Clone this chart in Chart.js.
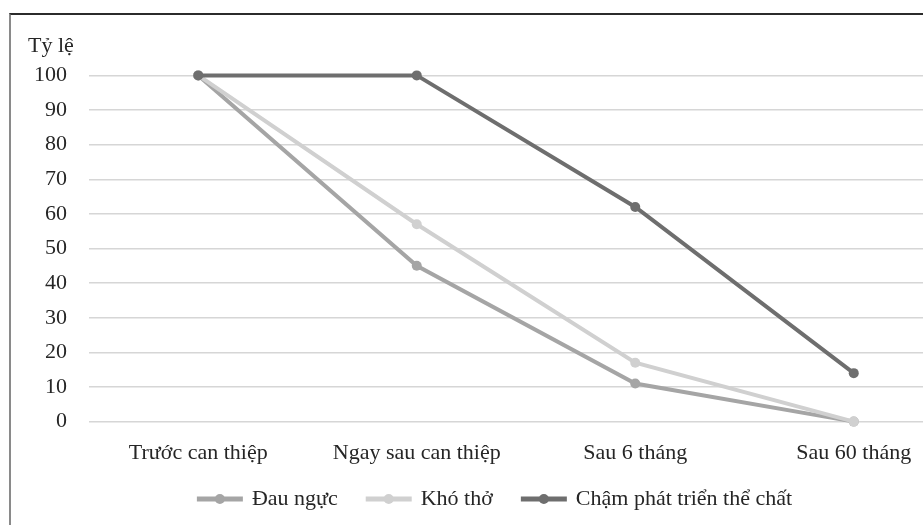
<!DOCTYPE html>
<html>
<head>
<meta charset="utf-8">
<script src="https://cdn.jsdelivr.net/npm/chart.js@4.4.1/dist/chart.umd.min.js"></script>
<style>
  html, body { margin: 0; padding: 0; background: #fff; overflow: hidden; }
  #frame {
    position: absolute; left: 9px; top: 13px; width: 1000px; height: 600px;
    border-top: 2px solid #2b2b2b; border-left: 2px solid #8a8a8a;
  }
  #chart { position: absolute; left: 0; top: 0; }
</style>
</head>
<body>
<div id="frame"><canvas id="chart" width="960" height="523"></canvas></div>
<script>
var categories = ["Trước can thiệp", "Ngay sau can thiệp", "Sau 6 tháng", "Sau 60 tháng"];
var seriesNames = ["Đau ngực", "Khó thở", "Chậm phát triển thể chất"];
var dauNguc = [100, 45, 11, 0];
var khoTho = [100, 57, 17, 0];
var chamPhatTrien = [100, 100, 62, 14];
var seriesColors = ["#a5a5a5", "#d0d0d0", "#6e6e6e"];
var yTitle = "Tỷ lệ";

var FONT = "'Liberation Serif', 'Times New Roman', serif";
var TEXT = "#262626";

function makeSet(i, data, order) {
  return {
    label: seriesNames[i],
    data: data,
    borderColor: seriesColors[i],
    backgroundColor: seriesColors[i],
    pointBackgroundColor: seriesColors[i],
    pointBorderColor: seriesColors[i],
    borderWidth: 4,
    pointRadius: 5,
    pointBorderWidth: 0,
    tension: 0,
    clip: false,
    order: order
  };
}

// legend: move it to the right height and put a dot on each line marker
var legendFix = {
  id: "legendFix",
  afterUpdate: function(chart) {
    var lg = chart.legend;
    var hb = lg.legendHitBoxes;
    if (!hb.length) return;
    var shift = 484 - (hb[0].top + hb[0].height / 2);
    lg.top += shift; lg.bottom += shift;
    hb.forEach(function(b) { b.top += shift; });
  },
  afterDraw: function(chart) {
    var ctx = chart.ctx;
    var lg = chart.legend;
    var bw = lg.options.labels.boxWidth;
    lg.legendHitBoxes.forEach(function(b, i) {
      var item = lg.legendItems[i];
      ctx.save();
      ctx.fillStyle = item.strokeStyle;
      ctx.beginPath();
      ctx.arc(b.left + bw / 2, b.top + b.height / 2, 5, 0, Math.PI * 2);
      ctx.fill();
      ctx.restore();
    });
  }
};

var chart = new Chart(document.getElementById("chart").getContext("2d"), {
  type: "line",
  data: {
    labels: categories,
    datasets: [
      makeSet(0, dauNguc, 2),
      makeSet(1, khoTho, 1),
      makeSet(2, chamPhatTrien, 0)
    ]
  },
  options: {
    responsive: false,
    animation: false,
    layout: { padding: { left: 17, right: 8, top: 0, bottom: 0 } },
    plugins: {
      tooltip: { enabled: false },
      title: {
        display: true,
        text: yTitle,
        align: "start",
        color: TEXT,
        font: { family: FONT, size: 22, weight: "normal" },
        padding: { top: 18, bottom: 16 }
      },
      legend: {
        position: "bottom",
        labels: {
          color: TEXT,
          font: { family: FONT, size: 22 },
          boxWidth: 42,
          boxHeight: 1,
          padding: 30,
          sort: function(a, b) { return a.datasetIndex - b.datasetIndex; }
        }
      }
    },
    scales: {
      x: {
        offset: true,
        grid: { display: false },
        border: { display: false },
        ticks: { color: TEXT, font: { family: FONT, size: 22 }, padding: 10, maxRotation: 0 }
      },
      y: {
        min: 0,
        max: 100,
        ticks: { stepSize: 10, color: TEXT, font: { family: FONT, size: 22 }, padding: 22 },
        grid: { color: "#d6d6d6", lineWidth: 1.5, drawTicks: false },
        border: { display: false },
        afterFit: function(scale) { scale.width = 61; }
      }
    }
  },
  plugins: [legendFix]
});
</script>
</body>
</html>
